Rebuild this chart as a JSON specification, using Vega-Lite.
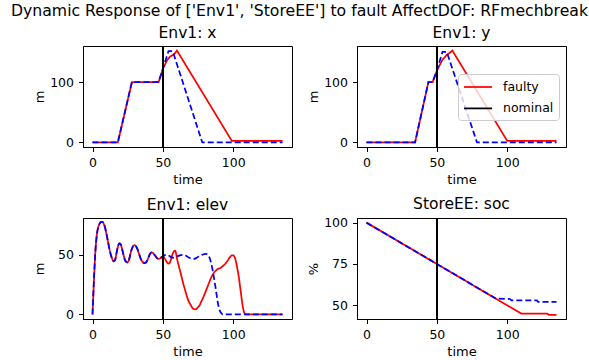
{
  "$schema": "https://vega.github.io/schema/vega-lite/v6.json",
  "background": "white",
  "padding": {"left": 10, "top": 3, "right": 0, "bottom": 0},
  "title": {"text": "Dynamic Response of ['Env1', 'StoreEE'] to fault AffectDOF: RFmechbreak", "fontSize": 15.7, "fontWeight": "normal", "font": "DejaVu Sans", "color": "black", "anchor": "middle", "offset": 5.5},
  "spacing": 9,
  "config": {
    "font": "DejaVu Sans",
    "view": {"stroke": "black", "strokeWidth": 1},
    "axis": {"grid": false, "domainColor": "black", "domainWidth": 1, "tickColor": "black", "tickSize": 4.5, "tickWidth": 1, "labelFontSize": 12.5, "labelColor": "black", "labelPadding": 5, "titleFontSize": 13, "titleFontWeight": "normal", "titleColor": "black", "labelFont": "DejaVu Sans", "titleFont": "DejaVu Sans"},
    "axisY": {"minExtent": 31, "maxExtent": 31, "titlePadding": 6},
    "axisX": {"titlePadding": 4},
    "title": {"fontSize": 15.5, "fontWeight": "normal", "color": "black", "offset": 4, "font": "DejaVu Sans"},
    "line": {"strokeWidth": 1.75}
  },
  "datasets": {
    "x": [
      {"t": 0, "value": 0, "series": "faulty"}, {"t": 18, "value": 0, "series": "faulty"}, {"t": 28, "value": 100, "series": "faulty"}, {"t": 47, "value": 100, "series": "faulty"}, {"t": 50, "value": 122, "series": "faulty"}, {"t": 53, "value": 136, "series": "faulty"}, {"t": 55, "value": 142, "series": "faulty"}, {"t": 58, "value": 146, "series": "faulty"}, {"t": 60, "value": 152, "series": "faulty"}, {"t": 99, "value": 2.5, "series": "faulty"}, {"t": 135, "value": 2.5, "series": "faulty"},
      {"t": 0, "value": 0, "series": "nominal"}, {"t": 18, "value": 0, "series": "nominal"}, {"t": 28, "value": 100, "series": "nominal"}, {"t": 47, "value": 100, "series": "nominal"}, {"t": 50, "value": 122, "series": "nominal"}, {"t": 54, "value": 151, "series": "nominal"}, {"t": 57, "value": 151, "series": "nominal"}, {"t": 78, "value": 0, "series": "nominal"}, {"t": 135, "value": 0, "series": "nominal"}
    ],
    "y": [
      {"t": 0, "value": 0, "series": "faulty"}, {"t": 34.5, "value": 0, "series": "faulty"}, {"t": 44, "value": 100, "series": "faulty"}, {"t": 47, "value": 100, "series": "faulty"}, {"t": 50, "value": 119, "series": "faulty"}, {"t": 54, "value": 137, "series": "faulty"}, {"t": 57, "value": 145, "series": "faulty"}, {"t": 59, "value": 148, "series": "faulty"}, {"t": 61, "value": 152, "series": "faulty"}, {"t": 100, "value": 2.5, "series": "faulty"}, {"t": 135, "value": 2.5, "series": "faulty"},
      {"t": 0, "value": 0, "series": "nominal"}, {"t": 34.5, "value": 0, "series": "nominal"}, {"t": 44, "value": 100, "series": "nominal"}, {"t": 47, "value": 100, "series": "nominal"}, {"t": 50, "value": 119, "series": "nominal"}, {"t": 54, "value": 150, "series": "nominal"}, {"t": 57, "value": 150, "series": "nominal"}, {"t": 78.5, "value": 0, "series": "nominal"}, {"t": 135, "value": 0, "series": "nominal"}
    ],
    "elev": [
      {"t": 0, "value": 0, "series": "faulty"}, {"t": 1, "value": 28, "series": "faulty"}, {"t": 2, "value": 52, "series": "faulty"}, {"t": 3, "value": 66, "series": "faulty"}, {"t": 4, "value": 73, "series": "faulty"}, {"t": 5, "value": 76, "series": "faulty"}, {"t": 6, "value": 77.5, "series": "faulty"}, {"t": 7, "value": 77.5, "series": "faulty"}, {"t": 8, "value": 76, "series": "faulty"}, {"t": 9, "value": 72.5, "series": "faulty"}, {"t": 10, "value": 67, "series": "faulty"}, {"t": 11, "value": 61, "series": "faulty"}, {"t": 12, "value": 55, "series": "faulty"}, {"t": 13, "value": 50, "series": "faulty"}, {"t": 14, "value": 46.5, "series": "faulty"}, {"t": 15, "value": 44.5, "series": "faulty"}, {"t": 16, "value": 45.5, "series": "faulty"}, {"t": 17, "value": 51, "series": "faulty"}, {"t": 18, "value": 56.5, "series": "faulty"}, {"t": 19, "value": 59.5, "series": "faulty"}, {"t": 20, "value": 59, "series": "faulty"}, {"t": 21, "value": 55, "series": "faulty"}, {"t": 22, "value": 50, "series": "faulty"}, {"t": 23, "value": 46, "series": "faulty"}, {"t": 24, "value": 44, "series": "faulty"}, {"t": 25, "value": 43.5, "series": "faulty"}, {"t": 26, "value": 46, "series": "faulty"}, {"t": 27, "value": 51, "series": "faulty"}, {"t": 28, "value": 55, "series": "faulty"}, {"t": 29, "value": 57.5, "series": "faulty"}, {"t": 30, "value": 58, "series": "faulty"}, {"t": 31, "value": 57, "series": "faulty"}, {"t": 32, "value": 54.5, "series": "faulty"}, {"t": 33, "value": 51, "series": "faulty"}, {"t": 34, "value": 47.5, "series": "faulty"}, {"t": 35, "value": 45, "series": "faulty"}, {"t": 36, "value": 43.5, "series": "faulty"}, {"t": 37, "value": 43, "series": "faulty"}, {"t": 38, "value": 43.5, "series": "faulty"}, {"t": 39, "value": 45.5, "series": "faulty"}, {"t": 40, "value": 48.5, "series": "faulty"}, {"t": 41, "value": 51, "series": "faulty"}, {"t": 42, "value": 52, "series": "faulty"}, {"t": 43, "value": 51.5, "series": "faulty"}, {"t": 44, "value": 50, "series": "faulty"}, {"t": 45, "value": 48.5, "series": "faulty"}, {"t": 46, "value": 47, "series": "faulty"}, {"t": 47, "value": 46.5, "series": "faulty"}, {"t": 48, "value": 47, "series": "faulty"}, {"t": 49, "value": 48, "series": "faulty"}, {"t": 50, "value": 48.5, "series": "faulty"},
      {"t": 51, "value": 47.5, "series": "faulty"}, {"t": 52, "value": 45.5, "series": "faulty"}, {"t": 53, "value": 43.5, "series": "faulty"}, {"t": 54, "value": 42.5, "series": "faulty"}, {"t": 55, "value": 43.5, "series": "faulty"}, {"t": 56, "value": 47, "series": "faulty"}, {"t": 57, "value": 51, "series": "faulty"}, {"t": 58, "value": 53, "series": "faulty"}, {"t": 58.8, "value": 53.5, "series": "faulty"}, {"t": 60, "value": 47, "series": "faulty"}, {"t": 61, "value": 42, "series": "faulty"}, {"t": 62, "value": 37.5, "series": "faulty"}, {"t": 63, "value": 33, "series": "faulty"}, {"t": 64, "value": 28, "series": "faulty"}, {"t": 65, "value": 23.5, "series": "faulty"}, {"t": 66, "value": 19.5, "series": "faulty"}, {"t": 67, "value": 15.5, "series": "faulty"}, {"t": 68, "value": 12, "series": "faulty"}, {"t": 69, "value": 9.5, "series": "faulty"}, {"t": 70, "value": 7.5, "series": "faulty"}, {"t": 71, "value": 5.5, "series": "faulty"}, {"t": 72, "value": 4.5, "series": "faulty"}, {"t": 73, "value": 4.2, "series": "faulty"}, {"t": 74, "value": 4.8, "series": "faulty"}, {"t": 75, "value": 6, "series": "faulty"}, {"t": 76, "value": 7.5, "series": "faulty"}, {"t": 77, "value": 10, "series": "faulty"}, {"t": 78, "value": 12.5, "series": "faulty"}, {"t": 79, "value": 15, "series": "faulty"}, {"t": 80, "value": 18, "series": "faulty"}, {"t": 81, "value": 21, "series": "faulty"}, {"t": 82, "value": 24, "series": "faulty"}, {"t": 83, "value": 27, "series": "faulty"}, {"t": 84, "value": 30, "series": "faulty"}, {"t": 85, "value": 32.5, "series": "faulty"}, {"t": 86, "value": 34.5, "series": "faulty"}, {"t": 87, "value": 36, "series": "faulty"}, {"t": 88, "value": 37, "series": "faulty"}, {"t": 89, "value": 38, "series": "faulty"}, {"t": 90, "value": 38.5, "series": "faulty"}, {"t": 91, "value": 39, "series": "faulty"}, {"t": 92, "value": 40, "series": "faulty"}, {"t": 93, "value": 41, "series": "faulty"}, {"t": 94, "value": 42, "series": "faulty"}, {"t": 95, "value": 43.5, "series": "faulty"}, {"t": 96, "value": 45, "series": "faulty"}, {"t": 97, "value": 47, "series": "faulty"}, {"t": 98, "value": 48.5, "series": "faulty"}, {"t": 99, "value": 49.5, "series": "faulty"}, {"t": 100, "value": 49.5, "series": "faulty"}, {"t": 101, "value": 48, "series": "faulty"}, {"t": 102, "value": 44, "series": "faulty"}, {"t": 103, "value": 38, "series": "faulty"}, {"t": 104, "value": 31, "series": "faulty"}, {"t": 105, "value": 22, "series": "faulty"}, {"t": 106, "value": 13, "series": "faulty"}, {"t": 107, "value": 5, "series": "faulty"}, {"t": 108, "value": 1, "series": "faulty"}, {"t": 109, "value": 0, "series": "faulty"}, {"t": 135, "value": 0, "series": "faulty"},
      {"t": 0, "value": 0, "series": "nominal"}, {"t": 1, "value": 28, "series": "nominal"}, {"t": 2, "value": 52, "series": "nominal"}, {"t": 3, "value": 66, "series": "nominal"}, {"t": 4, "value": 73, "series": "nominal"}, {"t": 5, "value": 76, "series": "nominal"}, {"t": 6, "value": 77.5, "series": "nominal"}, {"t": 7, "value": 77.5, "series": "nominal"}, {"t": 8, "value": 76, "series": "nominal"}, {"t": 9, "value": 72.5, "series": "nominal"}, {"t": 10, "value": 67, "series": "nominal"}, {"t": 11, "value": 61, "series": "nominal"}, {"t": 12, "value": 55, "series": "nominal"}, {"t": 13, "value": 50, "series": "nominal"}, {"t": 14, "value": 46.5, "series": "nominal"}, {"t": 15, "value": 44.5, "series": "nominal"}, {"t": 16, "value": 45.5, "series": "nominal"}, {"t": 17, "value": 51, "series": "nominal"}, {"t": 18, "value": 56.5, "series": "nominal"}, {"t": 19, "value": 59.5, "series": "nominal"}, {"t": 20, "value": 59, "series": "nominal"}, {"t": 21, "value": 55, "series": "nominal"}, {"t": 22, "value": 50, "series": "nominal"}, {"t": 23, "value": 46, "series": "nominal"}, {"t": 24, "value": 44, "series": "nominal"}, {"t": 25, "value": 43.5, "series": "nominal"}, {"t": 26, "value": 46, "series": "nominal"}, {"t": 27, "value": 51, "series": "nominal"}, {"t": 28, "value": 55, "series": "nominal"}, {"t": 29, "value": 57.5, "series": "nominal"}, {"t": 30, "value": 58, "series": "nominal"}, {"t": 31, "value": 57, "series": "nominal"}, {"t": 32, "value": 54.5, "series": "nominal"}, {"t": 33, "value": 51, "series": "nominal"}, {"t": 34, "value": 47.5, "series": "nominal"}, {"t": 35, "value": 45, "series": "nominal"}, {"t": 36, "value": 43.5, "series": "nominal"}, {"t": 37, "value": 43, "series": "nominal"}, {"t": 38, "value": 43.5, "series": "nominal"}, {"t": 39, "value": 45.5, "series": "nominal"}, {"t": 40, "value": 48.5, "series": "nominal"}, {"t": 41, "value": 51, "series": "nominal"}, {"t": 42, "value": 52, "series": "nominal"}, {"t": 43, "value": 51.5, "series": "nominal"}, {"t": 44, "value": 50, "series": "nominal"}, {"t": 45, "value": 48.5, "series": "nominal"}, {"t": 46, "value": 47, "series": "nominal"}, {"t": 47, "value": 46.5, "series": "nominal"}, {"t": 48, "value": 47, "series": "nominal"}, {"t": 49, "value": 48, "series": "nominal"}, {"t": 50, "value": 48.5, "series": "nominal"},
      {"t": 51, "value": 49.5, "series": "nominal"}, {"t": 52.5, "value": 50, "series": "nominal"}, {"t": 54, "value": 49.5, "series": "nominal"}, {"t": 56, "value": 48, "series": "nominal"}, {"t": 58, "value": 47.5, "series": "nominal"}, {"t": 60, "value": 48.5, "series": "nominal"}, {"t": 62, "value": 49.5, "series": "nominal"}, {"t": 64, "value": 50, "series": "nominal"}, {"t": 66, "value": 49.5, "series": "nominal"}, {"t": 68, "value": 48, "series": "nominal"}, {"t": 70, "value": 46.8, "series": "nominal"}, {"t": 72, "value": 46.5, "series": "nominal"}, {"t": 74, "value": 47.5, "series": "nominal"}, {"t": 76, "value": 49, "series": "nominal"}, {"t": 78, "value": 50, "series": "nominal"}, {"t": 80, "value": 50.8, "series": "nominal"}, {"t": 81.5, "value": 50.5, "series": "nominal"}, {"t": 83, "value": 48, "series": "nominal"}, {"t": 84.5, "value": 42, "series": "nominal"}, {"t": 86, "value": 33, "series": "nominal"}, {"t": 87.5, "value": 22, "series": "nominal"}, {"t": 89, "value": 10, "series": "nominal"}, {"t": 90.5, "value": 3, "series": "nominal"}, {"t": 92, "value": 0.5, "series": "nominal"}, {"t": 93, "value": 0, "series": "nominal"}, {"t": 135, "value": 0, "series": "nominal"}
    ],
    "soc": [
      {"t": 0, "value": 100, "series": "faulty"}, {"t": 92, "value": 54, "series": "faulty"}, {"t": 110, "value": 45, "series": "faulty"}, {"t": 128.5, "value": 45, "series": "faulty"}, {"t": 129.5, "value": 44.2, "series": "faulty"}, {"t": 135, "value": 44.2, "series": "faulty"},
      {"t": 0, "value": 100, "series": "nominal"}, {"t": 92, "value": 54, "series": "nominal"}, {"t": 102, "value": 53.8, "series": "nominal"}, {"t": 103, "value": 53, "series": "nominal"}, {"t": 121, "value": 53, "series": "nominal"}, {"t": 122, "value": 52, "series": "nominal"}, {"t": 135, "value": 52, "series": "nominal"}
    ]
  },
  "vconcat": [
    {
      "hconcat": [
        {
          "width": 209, "height": 101,
          "title": "Env1: x",
          "data": {"name": "x"},
          "layer": [
            {"transform": [{"filter": "datum.series === 'faulty'"}], "mark": {"type": "line", "color": "red"},
             "encoding": {"x": {"field": "t", "type": "quantitative", "scale": {"domain": [-6.75, 141.75], "nice": false, "zero": false}, "axis": {"values": [0, 50, 100], "title": "time"}},
                          "y": {"field": "value", "type": "quantitative", "scale": {"domain": [-7.6, 159.6], "nice": false, "zero": false}, "axis": {"values": [0, 100], "title": "m"}}}},
            {"transform": [{"filter": "datum.series === 'nominal'"}], "mark": {"type": "line", "color": "blue", "strokeDash": [6, 3]},
             "encoding": {"x": {"field": "t", "type": "quantitative"}, "y": {"field": "value", "type": "quantitative"}}},
            {"mark": {"type": "rule", "color": "black", "strokeWidth": 1.6}, "encoding": {"x": {"datum": 50}}}
          ]
        },
        {
          "width": 209, "height": 101,
          "title": "Env1: y",
          "data": {"name": "y"},
          "layer": [
            {"transform": [{"filter": "datum.series === 'faulty'"}], "mark": {"type": "line"},
             "encoding": {"x": {"field": "t", "type": "quantitative", "scale": {"domain": [-6.75, 141.75], "nice": false, "zero": false}, "axis": {"values": [0, 50, 100], "title": "time"}},
                          "y": {"field": "value", "type": "quantitative", "scale": {"domain": [-7.6, 159.6], "nice": false, "zero": false}, "axis": {"values": [0, 100], "title": "m"}},
                          "color": {"field": "series", "type": "nominal", "scale": {"domain": ["faulty", "nominal"], "range": ["red", "black"]},
                                    "legend": {"title": null, "orient": "none", "legendX": 375, "legendY": 28, "symbolType": "M-1,0H3", "symbolSize": 196, "symbolStrokeWidth": 1.75, "labelFontSize": 12.5, "labelFont": "DejaVu Sans", "labelColor": "black", "labelOffset": 24, "padding": 5, "rowPadding": 6.4, "fillColor": "rgba(255,255,255,0.8)", "strokeColor": "#cccccc", "cornerRadius": 3}}}},
            {"transform": [{"filter": "datum.series === 'nominal'"}], "mark": {"type": "line", "color": "blue", "strokeDash": [6, 3]},
             "encoding": {"x": {"field": "t", "type": "quantitative"}, "y": {"field": "value", "type": "quantitative"}}},
            {"mark": {"type": "rule", "strokeWidth": 1.6}, "encoding": {"x": {"datum": 50}, "color": {"datum": "nominal"}}}
          ]
        }
      ],
      "spacing": 13
    },
    {
      "hconcat": [
        {
          "width": 209, "height": 101,
          "title": "Env1: elev",
          "data": {"name": "elev"},
          "layer": [
            {"transform": [{"filter": "datum.series === 'faulty'"}], "mark": {"type": "line", "color": "red", "interpolate": "monotone"},
             "encoding": {"x": {"field": "t", "type": "quantitative", "scale": {"domain": [-6.75, 141.75], "nice": false, "zero": false}, "axis": {"values": [0, 50, 100], "title": "time"}},
                          "y": {"field": "value", "type": "quantitative", "scale": {"domain": [-3.85, 80.85], "nice": false, "zero": false}, "axis": {"values": [0, 50], "title": "m"}}}},
            {"transform": [{"filter": "datum.series === 'nominal'"}], "mark": {"type": "line", "color": "blue", "strokeDash": [6, 3], "interpolate": "monotone"},
             "encoding": {"x": {"field": "t", "type": "quantitative"}, "y": {"field": "value", "type": "quantitative"}}},
            {"mark": {"type": "rule", "color": "black", "strokeWidth": 1.6}, "encoding": {"x": {"datum": 50}}}
          ]
        },
        {
          "width": 209, "height": 101,
          "title": "StoreEE: soc",
          "data": {"name": "soc"},
          "layer": [
            {"transform": [{"filter": "datum.series === 'faulty'"}], "mark": {"type": "line", "color": "red"},
             "encoding": {"x": {"field": "t", "type": "quantitative", "scale": {"domain": [-6.75, 141.75], "nice": false, "zero": false}, "axis": {"values": [0, 50, 100], "title": "time"}},
                          "y": {"field": "value", "type": "quantitative", "scale": {"domain": [41.7, 102.8], "nice": false, "zero": false}, "axis": {"values": [50, 75, 100], "title": "%"}}}},
            {"transform": [{"filter": "datum.series === 'nominal'"}], "mark": {"type": "line", "color": "blue", "strokeDash": [6, 3]},
             "encoding": {"x": {"field": "t", "type": "quantitative"}, "y": {"field": "value", "type": "quantitative"}}},
            {"mark": {"type": "rule", "color": "black", "strokeWidth": 1.6}, "encoding": {"x": {"datum": 50}}}
          ]
        }
      ],
      "spacing": 13
    }
  ]
}
